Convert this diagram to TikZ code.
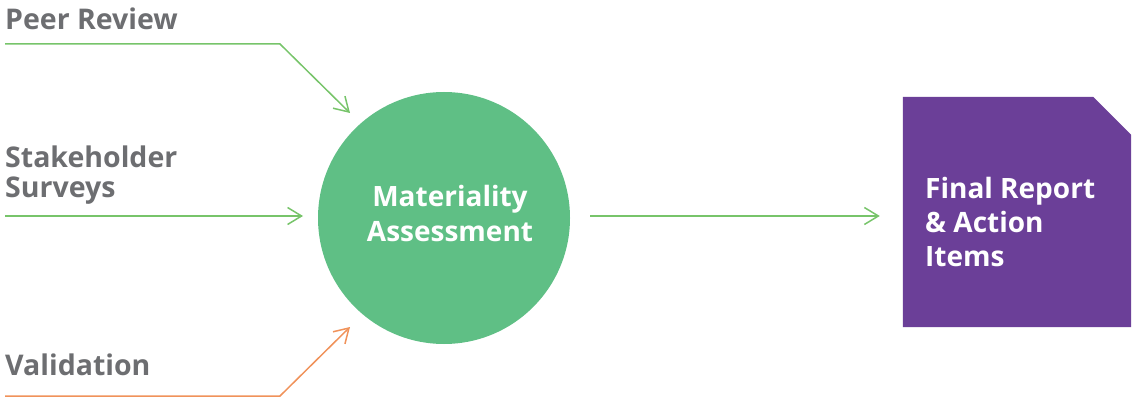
\documentclass[tikz,border=0pt]{standalone}
\usepackage{fontspec}
\setmainfont{Open Sans}
\usetikzlibrary{arrows.meta,calc}
\definecolor{txtgray}{HTML}{6D6E71}
\definecolor{flowgreen}{HTML}{77C46A}
\definecolor{floworange}{HTML}{F0925A}
\definecolor{hubgreen}{HTML}{5FBF85}
\definecolor{boxpurple}{HTML}{6B3F98}

\begin{document}
\begin{tikzpicture}[x=1pt, y=-1pt,
    lbl/.style={text=txtgray, font=\fontsize{28.5}{30}\selectfont\bfseries, align=left, inner sep=0pt},
    whitetxt/.style={text=white, inner sep=0pt, font=\fontsize{28}{35}\selectfont\bfseries},
    flow/.style={flowgreen, line width=1.5pt, -{Straight Barb[length=14pt, width=17pt, line width=1.5pt]}},
    hub/.style={circle, fill=hubgreen, minimum size=252pt, inner sep=0pt},
    reportbox/.style={rectangle, minimum width=228pt, minimum height=230pt, inner sep=0pt}]
    \useasboundingbox (0,0) rectangle (1133,398);

    \node[lbl, anchor=base west] (peer) at (5,30) {Peer Review};
    \node[lbl, anchor=base west] (survey) at (5,198) {Stakeholder\\Surveys};
    \node[lbl, anchor=base west] (valid) at (5,375) {Validation};

    \node[hub] (mat) at (444,218) {};
    \node[whitetxt, anchor=base, align=center] (mattxt) at (450,242) {Materiality\\Assessment};

    \node[reportbox] (report) at (1017,212) {};
    \fill[boxpurple] (report.south west) |- ($(report.north east)+(-38,0)$)
        -- ($(report.north east)+(0,38)$) |- cycle;
    \node[whitetxt, anchor=base west, align=left, font=\fontsize{28}{34}\selectfont\bfseries]
        (reporttxt) at (925,266) {Final Report\\\& Action\\Items};

    \coordinate (peerA) at (5,44);
    \coordinate (peerB) at (280,44);
    \coordinate (peerC) at (350,113);
    \coordinate (surveyA) at (5,216);
    \coordinate (surveyB) at (303,216);
    \coordinate (validA) at (5,396);
    \coordinate (validB) at (280,396);
    \coordinate (validC) at (350,327);

    \draw[flow] (peerA) -- (peerB) -- (peerC);
    \draw[flow] (surveyA) -- (surveyB);
    \draw[flow, floworange] (validA) -- (validB) -- (validC);
    \draw[flow, shorten <=20pt, shorten >=23pt] (mat.east |- surveyA) -- (report.west |- surveyA);
\end{tikzpicture}
\end{document}
